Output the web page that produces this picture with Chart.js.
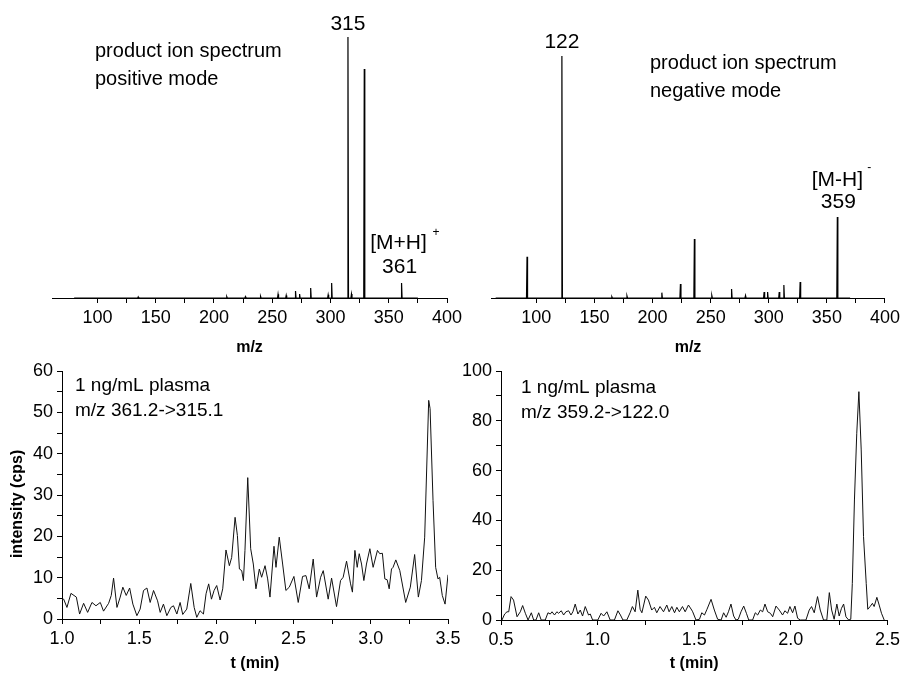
<!DOCTYPE html>
<html><head><meta charset="utf-8">
<script src="https://cdn.jsdelivr.net/npm/chart.js@4.4.1/dist/chart.umd.min.js"></script>
<style>
html,body{margin:0;padding:0;background:#fff;width:904px;height:674px;overflow:hidden}
canvas{position:absolute}
</style></head><body>
<canvas id="tl" width="480" height="357" style="left:0;top:0"></canvas>
<canvas id="tr" width="454" height="357" style="left:450px;top:0"></canvas>
<canvas id="bl" width="480" height="323" style="left:0;top:350px"></canvas>
<canvas id="br" width="454" height="323" style="left:450px;top:350px"></canvas>
<script>
// ---- data ----
const posPeakMz = [135, 211, 227, 240, 255, 262, 270, 273.5, 283, 298, 301, 315, 318, 329, 361];
const posPeakIntensity = [0.4, 0.5, 0.5, 0.6, 1.4, 1.0, 2.7, 1.5, 3.8, 1.2, 5.7, 100, 1.5, 87.7, 5.7];
const negPeakMz = [92, 122, 165, 178, 208, 224, 236, 251, 268, 280, 296, 299, 309, 313, 327, 359];
const negPeakIntensity = [17, 100, 0.5, 0.8, 2.2, 5.8, 24.4, 1.0, 3.7, 1.0, 2.5, 2.5, 2.5, 5.4, 6.6, 33.5];
const mzTickLabels = [100, 150, 200, 250, 300, 350, 400];

const lcTimePos = [1.000,1.011,1.032,1.058,1.093,1.114,1.140,1.166,1.194,1.220,1.248,1.269,1.302,1.319,1.334,1.356,1.377,1.394,1.416,1.438,1.459,1.485,1.506,1.528,1.550,1.571,1.593,1.619,1.636,1.657,1.679,1.705,1.722,1.744,1.765,1.782,1.808,1.834,1.856,1.873,1.894,1.916,1.933,1.950,1.968,1.985,2.002,2.024,2.041,2.062,2.084,2.099,2.121,2.136,2.149,2.164,2.175,2.185,2.203,2.222,2.239,2.256,2.278,2.293,2.315,2.332,2.347,2.373,2.386,2.407,2.429,2.450,2.472,2.502,2.530,2.558,2.580,2.601,2.627,2.649,2.675,2.692,2.724,2.746,2.778,2.804,2.821,2.843,2.869,2.881,2.897,2.912,2.925,2.940,2.955,2.972,2.994,3.015,3.043,3.058,3.075,3.091,3.106,3.119,3.134,3.144,3.162,3.188,3.226,3.256,3.284,3.308,3.328,3.349,3.375,3.384,3.403,3.420,3.435,3.446,3.463,3.481,3.500];
const lcIntensityPos = [4.8,4.8,2.8,6.2,5.3,1.2,3.8,1.6,4.0,3.2,4.0,1.9,3.8,5.7,9.9,2.8,5.3,7.7,5.7,7.5,3.6,0.8,2.4,6.9,7.5,4.0,6.9,4.4,1.6,3.6,0.8,2.8,3.2,1.2,4.0,1.1,2.4,8.6,2.8,0.4,2.0,1.2,6.1,8.5,4.8,6.9,8.1,4.6,7.3,16.7,12.9,14.9,24.6,20.2,12.1,11.7,9.3,16.6,34.2,17.0,13.3,7.3,12.1,10.1,12.9,9.7,5.3,17.6,12.5,19.8,13.3,6.9,7.7,10.3,4.0,10.3,10.5,7.3,14.5,5.3,10.1,11.7,4.8,9.9,3.0,9.3,10.1,14.0,8.5,6.5,16.6,12.5,15.8,13.3,9.3,13.3,17.0,12.5,16.6,15.8,15.9,9.7,9.5,7.3,12.1,12.5,14.3,11.7,4.0,7.7,15.6,5.3,9.3,19.8,52.9,50.9,28.7,12.5,9.7,10.1,5.7,3.6,10.7];

const lcTimeNeg = [0.505,0.519,0.531,0.540,0.552,0.565,0.583,0.600,0.612,0.626,0.640,0.657,0.669,0.681,0.695,0.708,0.729,0.743,0.755,0.764,0.777,0.789,0.798,0.812,0.824,0.836,0.850,0.862,0.872,0.884,0.898,0.910,0.922,0.936,0.953,0.962,0.974,1.001,1.018,1.031,1.048,1.065,1.087,1.105,1.118,1.131,1.151,1.168,1.180,1.194,1.208,1.220,1.229,1.249,1.263,1.280,1.294,1.306,1.323,1.341,1.358,1.370,1.384,1.398,1.410,1.423,1.439,1.453,1.470,1.487,1.492,1.509,1.527,1.539,1.553,1.566,1.587,1.604,1.621,1.639,1.652,1.665,1.677,1.690,1.704,1.716,1.728,1.742,1.756,1.770,1.782,1.802,1.816,1.828,1.842,1.854,1.866,1.880,1.894,1.906,1.923,1.940,1.957,1.969,1.983,1.995,2.009,2.021,2.035,2.049,2.078,2.095,2.107,2.121,2.138,2.152,2.169,2.186,2.199,2.211,2.224,2.238,2.250,2.262,2.273,2.285,2.299,2.310,2.318,2.329,2.341,2.352,2.364,2.376,2.390,2.398,2.410,2.422,2.431,2.445,2.457,2.469,2.483];
const lcIntensityNeg = [0,2.4,3.3,3.3,9.4,8.0,1.3,3.3,5.8,2.7,0,2.9,0,0,2.9,0,0,2.9,2.4,3.3,2.0,3.3,2.7,3.7,2.0,3.3,3.7,2.0,3.3,6.4,2.4,4.0,1.6,5.4,2.0,2.4,0,0,2.7,1.6,3.3,0,0,3.7,2.0,0,0,2.9,5.4,3.3,12.0,4.3,2.9,9.6,8.0,4.0,5.1,2.9,5.4,3.3,6.0,3.3,5.4,2.9,5.1,3.3,5.4,3.3,6.0,4.0,3.3,0,0.3,2.9,2.0,4.3,8.3,4.0,0.3,0,2.9,1.1,3.3,6.4,1.6,0,0.3,3.3,5.6,2.7,0,0,2.9,2.0,4.0,3.3,6.4,3.3,2.7,1.3,5.6,4.0,2.0,3.7,2.7,5.4,2.9,5.6,0.7,0,0,4.0,5.4,2.9,9.4,4.0,0,0,11.0,4.0,0.3,6.4,1.6,4.7,6.4,1.3,0,0.3,14.7,48.2,75.0,91.7,68.3,33.5,14.7,4.3,5.4,6.7,5.4,9.1,6.0,2.7,0];

// ---- helpers ----
const FONT = "'Liberation Sans', Arial, sans-serif";
function sticks(mz, inten, start, end) {
  const pts = [{x: start, y: 0}];
  mz.forEach((m, i) => { pts.push({x: m - 0.45, y: 0}, {x: m, y: inten[i]}, {x: m + 0.45, y: 0}); });
  pts.push({x: end, y: 0});
  return pts;
}
function pairs(xs, ys) { return xs.map((x, i) => ({x, y: ys[i]})); }
function near(v, step) { return Math.abs(v / step - Math.round(v / step)) < 1e-6; }

function textPlugin(items) {
  return { id: 'txt', afterDraw(chart) {
    const ctx = chart.ctx, xs = chart.scales.x, ys = chart.scales.y, ca = chart.chartArea;
    items.forEach(it => {
      ctx.save();
      ctx.font = (it.size || 20) + 'px ' + FONT;
      ctx.fillStyle = '#000';
      ctx.textAlign = it.align || 'left';
      ctx.textBaseline = it.base || 'alphabetic';
      const x = (it.xv !== undefined ? xs.getPixelForValue(it.xv) : ca.left) + (it.dx || 0);
      const y = (it.yv !== undefined ? ys.getPixelForValue(it.yv) : ca.top) + (it.dy || 0);
      ctx.fillText(it.text, x, y);
      ctx.restore();
    });
  }};
}

function xAxis(min, max, step, labelStep, fmt, height, title) {
  return {
    type: 'linear', position: 'bottom', min, max,
    afterBuildTicks: s => { s.ticks = s.ticks.filter(t => near(t.value, step)); },
    afterFit: s => { s.height = height; },
    ticks: { stepSize: step, autoSkip: false, maxRotation: 0, padding: 4, color: '#000',
      font: { family: FONT, size: 18 },
      callback: v => near(v, labelStep) ? fmt(v) : '' },
    grid: { display: true, drawOnChartArea: false, drawTicks: true, tickLength: 5, color: '#000', tickColor: '#000' },
    border: { display: true, color: '#000', width: 1 },
    title: { display: true, text: title, color: '#000', padding: 0, font: { family: FONT, size: 16, weight: 'bold' } }
  };
}

function baseOpts(padding, scales) {
  return {
    responsive: false, animation: false, devicePixelRatio: 1,
    layout: { padding, autoPadding: false },
    plugins: { legend: { display: false }, tooltip: { enabled: false } },
    elements: { point: { radius: 0 }, line: { tension: 0 } },
    scales
  };
}

// ---- top-left: positive mode spectrum ----
new Chart(document.getElementById('tl'), {
  type: 'line',
  data: { datasets: [{ data: sticks(posPeakMz, posPeakIntensity, 80, 375), borderColor: '#000', borderWidth: 1.2 }] },
  options: baseOpts({ left: 52, right: 33, top: 37, bottom: 0 }, {
    x: xAxis(61, 400, 25, 50, v => mzTickLabels.includes(v) ? String(v) : '', 59, 'm/z'),
    y: { display: false, min: 0, max: 100 }
  }),
  plugins: [textPlugin([
    { text: '315', xv: 315, yv: 100, dy: -13, align: 'center', base: 'middle', size: 21 },
    { text: '[M+H]', xv: 361, yv: 5.7, dx: -3, dy: -40, align: 'center', base: 'middle', size: 21 },
    { text: '+', xv: 361, yv: 5.7, dx: 31, dy: -50, align: 'left', base: 'middle', size: 12 },
    { text: '361', xv: 361, yv: 5.7, dx: -2, dy: -16, align: 'center', base: 'middle', size: 21 },
    { text: 'product ion spectrum', dx: 43, dy: 20 },
    { text: 'positive mode', dx: 43, dy: 48 }
  ])]
});

// ---- top-right: negative mode spectrum ----
new Chart(document.getElementById('tr'), {
  type: 'line',
  data: { datasets: [{ data: sticks(negPeakMz, negPeakIntensity, 65, 370), borderColor: '#000', borderWidth: 1.2 }] },
  options: baseOpts({ left: 41, right: 18, top: 56, bottom: 0 }, {
    x: xAxis(61, 400, 25, 50, v => mzTickLabels.includes(v) ? String(v) : '', 59, 'm/z'),
    y: { display: false, min: 0, max: 100 }
  }),
  plugins: [textPlugin([
    { text: '122', xv: 122, yv: 100, dy: -14, align: 'center', base: 'middle', size: 21 },
    { text: '[M-H]', xv: 359, yv: 33.5, dx: 0, dy: -37, align: 'center', base: 'middle', size: 21 },
    { text: '-', xv: 359, yv: 33.5, dx: 30, dy: -49, align: 'left', base: 'middle', size: 12 },
    { text: '359', xv: 359, yv: 33.5, dx: 1, dy: -15, align: 'center', base: 'middle', size: 21 },
    { text: 'product ion spectrum', dx: 159, dy: 12.5 },
    { text: 'negative mode', dx: 159, dy: 41 }
  ])]
});

function yAxis(max, step, labelStep, width, title) {
  return {
    type: 'linear', position: 'left', min: 0, max,
    afterBuildTicks: s => { s.ticks = s.ticks.filter(t => near(t.value, step)); },
    afterFit: s => { s.width = width; },
    ticks: { stepSize: step, autoSkip: false, padding: 4, color: '#000',
      font: { family: FONT, size: 18 },
      callback: v => near(v, labelStep) ? String(v) : '' },
    grid: { display: true, drawOnChartArea: false, drawTicks: true, tickLength: 5, color: '#000', tickColor: '#000' },
    border: { display: true, color: '#000', width: 1 },
    title: { display: !!title, text: title || '', color: '#000', padding: 0, font: { family: FONT, size: 16, weight: 'bold' } }
  };
}

// ---- bottom-left: chromatogram positive ----
new Chart(document.getElementById('bl'), {
  type: 'line',
  data: { datasets: [{ data: pairs(lcTimePos, lcIntensityPos), borderColor: '#111', borderWidth: 1 }] },
  options: baseOpts({ left: 8, right: 32, top: 21, bottom: 0 }, {
    x: xAxis(1.0, 3.5, 0.25, 0.5, v => v.toFixed(1), 54, 't (min)'),
    y: yAxis(60, 5, 10, 54, 'intensity (cps)\u00a0\u00a0\u00a0\u00a0')
  }),
  plugins: [textPlugin([
    { text: '1 ng/mL plasma', dx: 13, dy: 20, size: 19 },
    { text: 'm/z 361.2->315.1', dx: 13, dy: 45, size: 19 }
  ])]
});

// ---- bottom-right: chromatogram negative ----
new Chart(document.getElementById('br'), {
  type: 'line',
  data: { datasets: [{ data: pairs(lcTimeNeg, lcIntensityNeg), borderColor: '#111', borderWidth: 1 }] },
  options: baseOpts({ left: 0, right: 16, top: 21, bottom: 0 }, {
    x: xAxis(0.5, 2.5, 0.25, 0.5, v => v.toFixed(1), 53, 't (min)'),
    y: yAxis(100, 10, 20, 51, null)
  }),
  plugins: [textPlugin([
    { text: '1 ng/mL plasma', dx: 20, dy: 22, size: 19 },
    { text: 'm/z 359.2->122.0', dx: 20, dy: 47, size: 19 }
  ])]
});
</script>
</body></html>
